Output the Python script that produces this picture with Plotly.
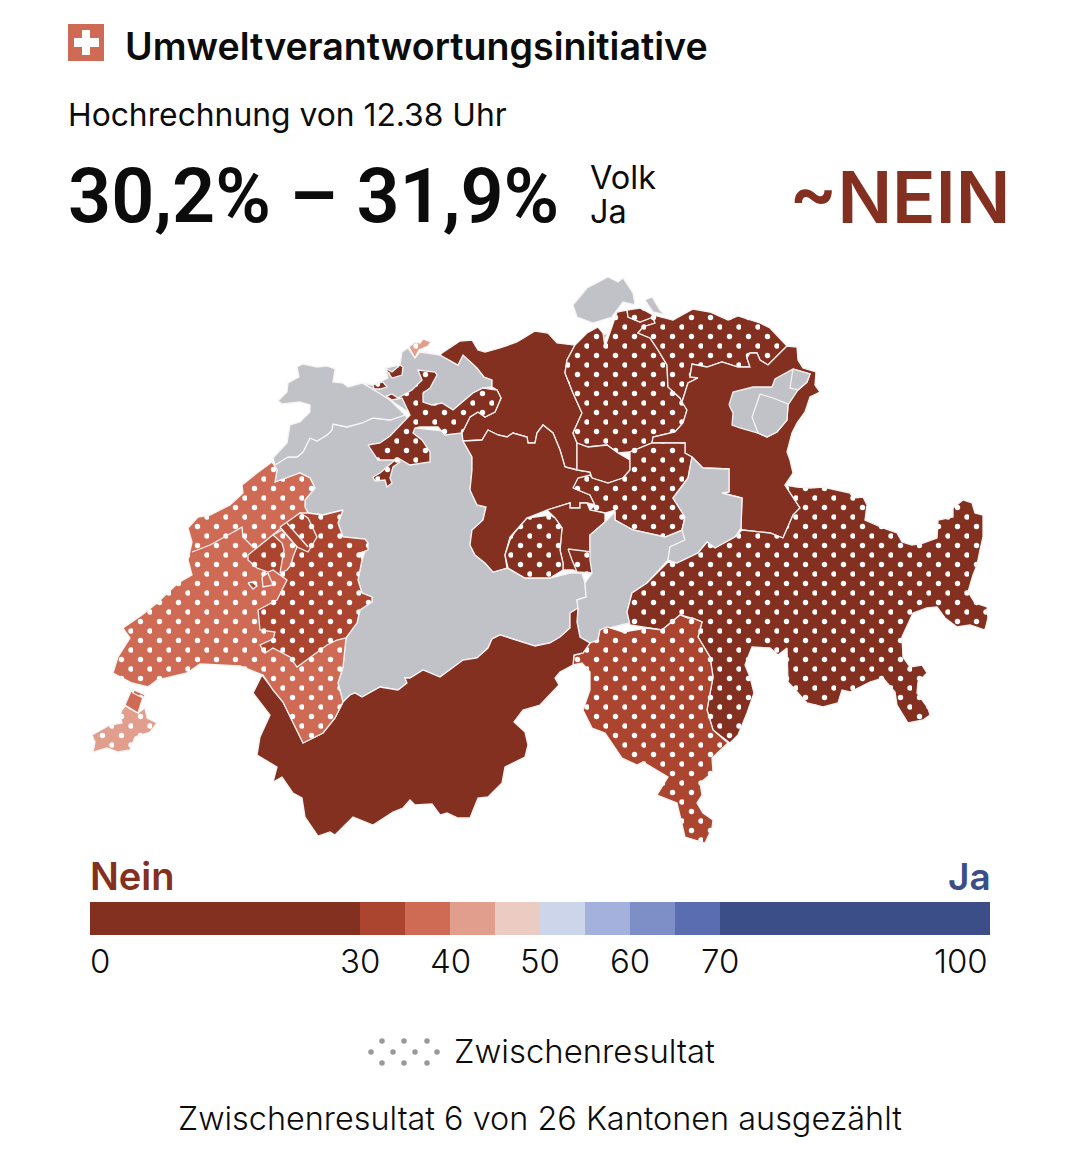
import plotly.graph_objects as go

# colour scale of the legend (Ja share in percent)
scale_edges = [0, 30, 35, 40, 45, 50, 55, 60, 65, 70, 100]
scale_colors = ['#833020', '#ab4530', '#cf6a54', '#e29e8d', '#eccbc2',
                '#ccd5ea', '#a4b1dc', '#7e8fc8', '#5a6db0', '#3c4e88']
tick_values = [0, 30, 40, 50, 60, 70, 100]
grey = '#c1c1c8'

# canton outlines
BE = [(273,463),(288,457),(297,457),(303,452),(310,438),(317,441),(327,435),(332,430),(333,424),(347,427),(362,423),(373,418),(390,420),(405,415),(415,428),(462,433),(463,441),(472,457),(472,470),(470,490),(477,505),(486,507),(483,520),(472,530),(470,545),(475,555),(485,563),(493,572),(507,568),(525,578),(550,578),(570,573),(582,573),(585,583),(586,597),(577,600),(578,608),(570,613),(570,628),(560,637),(550,643),(535,646),(523,642),(500,635),(492,639),(488,648),(477,658),(463,660),(440,677),(423,670),(410,678),(405,678),(407,683),(398,690),(380,687),(362,697),(355,693),(350,695),(343,702),(338,683),(343,667),(346,638),(357,623),(360,610),(372,602),(372,597),(362,593),(358,580),(362,560),(368,543),(365,539),(343,537),(338,523),(343,510),(335,512),(323,515),(308,513),(305,507),(305,500),(315,488),(310,478),(300,473),(290,477),(275,482),(277,470)]
JU = [(297,367),(303,364),(317,367),(327,366),(335,369),(333,382),(343,383),(348,387),(362,383),(373,389),(388,398),(405,415),(390,420),(373,418),(362,423),(347,427),(333,424),(332,430),(327,435),(317,441),(310,438),(303,452),(297,457),(288,457),(275,465),(273,458),(287,443),(290,425),(300,422),(310,412),(310,405),(300,402),(282,404),(278,401),(287,392),(288,383),(299,377)]
BL = [(363,383),(373,385),(388,378),(385,368),(400,365),(402,352),(408,348),(415,358),(420,352),(440,355),(458,365),(463,355),(473,363),(477,368),(484,377),(492,380),(492,387),(483,388),(473,393),(453,410),(410,413),(390,400)]
BS = [(409,347),(415,342),(420,343),(423,339),(431,342),(428,346),(419,350),(415,358)]
SO = [(368,445),(380,443),(390,436),(410,415),(402,398),(392,400),(386,396),(392,394),(398,398),(412,390),(422,380),(418,370),(435,372),(437,375),(430,388),(423,393),(423,402),(432,405),(442,403),(453,410),(473,393),(483,388),(497,390),(501,398),(495,412),(485,417),(478,412),(470,417),(462,433),(445,435),(438,427),(420,427),(415,428),(413,433),(422,440),(430,452),(430,462),(410,465),(398,458),(400,462),(393,467),(390,478),(392,483),(387,487),(385,480),(375,481),(373,477),(380,473),(395,460),(378,460)]
SO_2 = [(373,385),(383,382),(387,387),(380,389),(374,389)]
SO_3 = [(385,368),(392,372),(400,365),(403,367),(402,375),(392,378)]
AG = [(442,353),(457,343),(460,341),(472,340),(478,350),(485,352),(500,348),(517,342),(535,331),(548,333),(557,343),(575,345),(567,360),(565,373),(573,393),(582,413),(573,433),(577,443),(577,470),(565,467),(560,450),(553,433),(543,425),(537,433),(535,443),(528,443),(527,437),(513,433),(507,437),(498,435),(488,430),(482,440),(463,441),(462,433),(470,417),(478,412),(485,417),(495,412),(501,398),(497,390),(492,387),(492,380),(484,377),(477,368),(463,355),(458,365),(440,355)]
LU = [(463,441),(482,440),(488,430),(498,435),(507,437),(513,433),(527,437),(528,443),(535,443),(537,433),(543,425),(553,433),(560,450),(565,467),(577,470),(590,472),(592,478),(573,488),(590,495),(595,505),(587,503),(580,503),(580,508),(570,508),(570,503),(547,510),(527,518),(510,537),(505,555),(507,568),(493,572),(485,563),(475,555),(470,545),(472,530),(483,520),(486,507),(477,505),(470,490),(472,470),(472,457)]
OW = [(550,515),(527,518),(515,532),(510,540),(505,555),(508,568),(525,578),(550,578),(563,570),(563,563),(560,550),(562,528),(555,518)]
NW = [(547,510),(570,503),(570,508),(580,508),(580,503),(587,503),(590,510),(605,513),(605,522),(590,535),(590,560),(592,573),(580,573),(573,570),(563,570),(563,563),(560,550),(562,528),(555,518)]
OW_2 = [(568,549),(593,552),(592,573),(577,572),(572,560)]
UR = [(605,522),(615,512),(615,520),(633,530),(665,537),(683,530),(685,540),(670,547),(668,560),(647,583),(632,593),(627,612),(630,623),(600,630),(598,640),(590,643),(580,637),(577,622),(578,608),(577,600),(586,597),(585,583),(592,573),(590,560),(590,535)]
GL = [(692,457),(703,468),(729,469),(729,492),(722,493),(742,498),(741,528),(735,537),(715,548),(707,542),(698,553),(677,563),(668,560),(670,547),(685,540),(682,530),(685,517),(673,498),(688,478)]
SZ = [(573,488),(578,478),(590,475),(592,478),(608,483),(623,478),(630,470),(630,457),(630,452),(652,443),(685,443),(685,453),(692,457),(688,478),(673,498),(685,517),(682,530),(665,537),(633,530),(615,520),(615,510),(605,513),(590,510),(595,505),(590,495)]
ZG = [(577,443),(588,447),(607,445),(618,453),(630,460),(630,470),(623,478),(608,483),(592,478),(590,472),(577,470)]
ZH = [(575,345),(587,333),(598,327),(603,333),(605,347),(617,312),(627,310),(628,317),(640,322),(653,317),(655,323),(643,327),(638,333),(650,338),(658,350),(667,365),(668,387),(680,398),(687,410),(683,423),(675,432),(653,437),(652,443),(630,452),(618,453),(607,445),(588,447),(577,443),(573,433),(582,413),(573,393),(565,373),(567,360)]
SH = [(573,305),(587,288),(608,277),(618,282),(623,278),(633,293),(635,305),(623,302),(612,317),(593,323),(577,317)]
SH_2 = [(645,300),(652,297),(660,310),(665,315),(653,312)]
SH_3 = [(602,345),(608,333),(603,335)]
TG = [(627,310),(640,308),(653,315),(673,320),(693,309),(710,312),(728,320),(738,316),(760,323),(770,328),(787,346),(768,365),(760,360),(757,353),(750,353),(747,358),(750,367),(738,367),(722,362),(707,367),(692,364),(690,377),(698,378),(688,383),(682,402),(680,398),(668,387),(667,365),(658,350),(650,338),(638,333),(643,327),(655,323),(653,317),(640,322),(628,317)]
SG = [(787,346),(797,347),(798,360),(803,368),(816,372),(815,385),(820,392),(810,397),(805,412),(797,423),(792,433),(787,452),(790,460),(793,473),(785,485),(800,508),(793,515),(783,538),(770,533),(742,530),(741,528),(742,498),(722,493),(729,492),(729,469),(703,468),(692,457),(685,453),(685,443),(652,443),(653,437),(675,432),(683,423),(687,410),(682,402),(688,383),(698,378),(690,377),(692,364),(707,367),(722,362),(738,367),(750,367),(747,358),(750,353),(757,353),(760,360),(768,365)]
AR = [(729,405),(733,392),(753,387),(772,387),(775,379),(793,369),(810,374),(807,382),(798,390),(788,405),(787,420),(777,432),(767,437),(758,433),(740,428),(732,425),(733,413)]
AI = [(760,394),(773,398),(788,404),(787,420),(777,432),(767,437),(758,433),(752,417),(757,403)]
AI_2 = [(793,369),(810,374),(807,382),(798,390),(790,388)]
GR = [(742,530),(770,533),(783,538),(793,515),(800,508),(785,485),(797,487),(810,488),(823,487),(837,490),(850,493),(853,498),(863,497),(867,505),(865,520),(883,528),(897,533),(902,542),(912,545),(923,543),(937,538),(938,520),(953,517),(953,508),(963,500),(972,503),(975,513),(983,515),(983,537),(980,550),(977,565),(973,575),(968,592),(975,603),(987,607),(988,618),(985,630),(970,625),(957,627),(945,618),(937,607),(927,608),(913,613),(902,637),(903,657),(910,667),(922,665),(927,673),(918,682),(917,693),(928,708),(930,715),(923,720),(908,723),(897,705),(895,692),(883,678),(870,682),(850,692),(842,690),(838,703),(823,707),(807,703),(798,693),(788,682),(787,648),(778,655),(770,648),(752,647),(745,665),(750,677),(754,693),(747,713),(738,735),(730,743),(713,730),(707,710),(713,677),(710,657),(698,637),(702,622),(692,618),(680,615),(662,630),(647,628),(630,625),(627,612),(632,593),(647,583),(668,562),(677,563),(698,553),(707,542),(715,548),(735,537)]
TI = [(600,630),(607,627),(623,632),(647,628),(662,630),(680,615),(688,618),(692,618),(702,622),(698,637),(710,657),(713,677),(707,710),(713,730),(728,743),(712,758),(713,772),(700,783),(702,795),(697,803),(703,813),(713,820),(712,828),(705,843),(695,840),(685,837),(677,803),(657,795),(668,777),(643,762),(637,765),(622,758),(605,733),(592,728),(583,710),(590,690),(590,672),(582,663),(573,665),(574,655),(583,653),(590,643),(598,640)]
VS = [(578,608),(577,622),(580,637),(590,643),(583,653),(574,655),(573,665),(560,672),(555,678),(559,685),(540,705),(523,710),(514,722),(525,732),(528,745),(525,757),(505,767),(502,783),(488,797),(478,798),(470,818),(458,818),(447,813),(440,815),(432,804),(415,805),(410,800),(403,808),(393,812),(373,825),(353,817),(335,835),(330,832),(318,836),(305,817),(302,798),(293,793),(282,777),(273,782),(277,767),(257,755),(260,737),(270,715),(253,693),(262,675),(283,702),(303,743),(323,733),(335,718),(343,702),(350,695),(355,693),(362,697),(380,687),(398,690),(407,683),(405,678),(410,678),(423,670),(440,677),(463,660),(477,658),(488,648),(492,639),(500,635),(523,642),(535,646),(550,643),(560,637),(570,628),(570,613)]
VD = [(272,462),(277,470),(275,482),(290,477),(300,473),(310,478),(315,488),(305,500),(305,507),(308,513),(330,540),(340,600),(346,638),(343,667),(338,683),(343,702),(335,718),(323,733),(303,743),(283,702),(273,690),(263,675),(240,666),(200,664),(187,673),(157,680),(148,687),(132,683),(113,673),(118,657),(130,638),(123,628),(142,615),(157,603),(170,590),(178,583),(192,575),(188,560),(192,542),(188,528),(198,517),(210,515),(230,505),(243,493),(242,485),(257,473)]
VD_2 = [(125,705),(131,691),(143,697),(138,713)]
VD_3 = [(134,690),(145,695),(143,698),(133,693)]
VD_4 = [(273,535),(282,530),(297,547),(293,557),(291,565),(287,570),(280,573),(282,560),(284,550),(282,543)]
VD_5 = [(262,577),(268,573),(273,585),(263,587)]
GE = [(122,710),(125,706),(138,713),(145,708),(147,718),(157,723),(150,732),(135,737),(130,750),(118,752),(107,748),(93,752),(95,742),(92,735),(110,725),(122,723),(120,715)]
FR = [(343,510),(338,523),(343,537),(365,539),(368,543),(368,550),(360,553),(362,560),(358,580),(362,593),(372,597),(372,602),(360,610),(357,623),(346,638),(337,640),(327,645),(297,667),(290,657),(273,648),(265,653),(260,645),(273,639),(275,632),(260,630),(258,610),(277,600),(287,580),(273,570),(268,572),(257,568),(248,560),(248,555),(300,513),(308,513),(323,515),(335,512)]
FR_2 = [(280,527),(300,513),(308,518),(317,537),(308,552),(297,547)]
FR_3 = [(248,583),(252,582),(257,586),(253,589)]

# draw order matters, later ones lie on top: (outline, colour bin or None for no result, interim?)
cantons = [
    (BE, None, False), (JU, None, False), (BL, None, False), (BS, 3, True), (SH, None, False),
    (SH_2, None, False), (SH_3, None, False), (AG, 0, False), (LU, 0, False), (ZH, 0, True),
    (TG, 0, True), (SG, 0, False), (AR, None, False), (AI, None, False), (AI_2, None, False),
    (ZG, 0, False), (SZ, 0, True), (NW, 0, False), (OW, 0, True), (OW_2, 0, True),
    (UR, None, False), (GL, None, False), (SO, 0, True), (SO_2, 0, True), (SO_3, 0, True),
    (GR, 0, True), (TI, 1, True), (VS, 0, False), (VD, 2, True), (GE, 3, True),
    (VD_2, 2, False), (VD_3, 2, True), (FR, 1, True), (FR_2, 1, True), (VD_4, 2, True),
    (VD_5, 2, False), (FR_3, 1, False),
]

# lines inside a canton
inner_lines = [
    [(192,552),(210,545),(237,530),(242,527),(243,537),(253,547)],
    [(287,523),(308,547)],
]

# staggered dots, two per tile
dot_r = 2.7
def circle(cx, cy):
    return f'M{cx - dot_r},{cy}a{dot_r},{dot_r} 0 1,0 {2 * dot_r},0a{dot_r},{dot_r} 0 1,0 {-2 * dot_r},0Z'
DOTS = circle(17, 4) + circle(7.5, 13.5)

font = 'Inter'
fig = go.Figure()

for outline, color_bin, interim in cantons:
    color = grey if color_bin is None else scale_colors[color_bin]
    xs = [p[0] for p in outline] + [outline[0][0]]
    ys = [p[1] for p in outline] + [outline[0][1]]
    trace = dict(x=xs, y=ys, mode='lines', fill='toself', fillcolor=color,
                 line=dict(color='#f6f3f3', width=1.3), hoverinfo='skip', showlegend=False)
    if interim:
        trace['fillpattern'] = dict(path=DOTS, size=19, fgcolor='white', bgcolor=color, fgopacity=1)
    fig.add_trace(go.Scatter(**trace))

for line in inner_lines:
    fig.add_trace(go.Scatter(x=[p[0] for p in line], y=[p[1] for p in line], mode='lines',
                             line=dict(color='#f6f3f3', width=1.3), hoverinfo='skip', showlegend=False))

# colour scale
fig.add_trace(go.Bar(
    x=[b - a for a, b in zip(scale_edges, scale_edges[1:])],
    base=scale_edges[:-1],
    y=[0] * len(scale_colors),
    orientation='h',
    width=1,
    marker=dict(color=scale_colors, line=dict(width=0)),
    xaxis='x2', yaxis='y2', hoverinfo='skip', showlegend=False,
))

# legend swatch for the interim result
swatch_x = [382, 404, 427, 371, 393, 415, 437, 382, 404, 427]
swatch_y = [1041, 1041, 1041, 1052, 1052, 1052, 1052, 1063, 1063, 1063]
fig.add_trace(go.Scatter(x=swatch_x, y=swatch_y, mode='markers',
                         marker=dict(color='#999999', size=5.5), hoverinfo='skip', showlegend=False))


def label(text, x, y, size, anchor='left', color='#0c0c0c', weight=400, xref='x', family=font, xshift=0):
    fig.add_annotation(text=text, x=x, y=y, xref=xref, yref='y', xanchor=anchor, yanchor='middle', xshift=xshift,
                       showarrow=False, font=dict(family=family, size=size, color=color, weight=weight))


label('Umweltverantwortungsinitiative', 123, 46, 37.6, weight=600)
label('Hochrechnung von 12.38 Uhr', 66, 114, 31.8)
label('30,2% – 31,9%', 66, 196, 75.5, weight=600, family='Roboto')
label('Volk', 588, 177, 32.5)
label('Ja', 588, 211, 32.5)
label('~NEIN', 1012, 196, 72, anchor='right', color=scale_colors[0], weight=600)
label('Nein', 88, 876, 38, color=scale_colors[0], weight=600)
label('Ja', 993, 876, 37, anchor='right', color=scale_colors[-1], weight=600)
for t in tick_values:
    anchor = 'left' if t == tick_values[0] else 'right' if t == tick_values[-1] else 'center'
    label(str(t), t, 961, 33, anchor=anchor, weight=300, xref='x2', xshift=-2 if t == 0 else 0)
label('Zwischenresultat', 452, 1051, 32.9, weight=300)
label('Zwischenresultat 6 von 26 Kantonen ausgezählt', 540, 1118, 32.4, anchor='center', weight=300)

# Swiss flag
fig.add_shape(type='rect', x0=68, x1=104, y0=24, y1=61, fillcolor=scale_colors[2], line_width=0)
fig.add_shape(type='rect', x0=82, x1=90, y0=30, y1=55, fillcolor='white', line_width=0)
fig.add_shape(type='rect', x0=74, x1=99, y0=38, y1=47, fillcolor='white', line_width=0)

hidden = dict(visible=False, fixedrange=True)
fig.update_layout(
    width=1080, height=1150,
    margin=dict(l=0, r=0, t=0, b=0),
    paper_bgcolor='white', plot_bgcolor='white',
    barmode='overlay',
    xaxis=dict(range=[0, 1080], domain=[0, 1], **hidden),
    yaxis=dict(range=[1150, 0], domain=[0, 1], **hidden),
    xaxis2=dict(range=[0, 100], domain=[90 / 1080, 990 / 1080], anchor='y2', **hidden),
    yaxis2=dict(range=[-0.5, 0.5], domain=[1 - 935 / 1150, 1 - 902 / 1150], anchor='x2', **hidden),
)

fig.write_html("out.html", config=dict(displayModeBar=False), post_script="document.body.style.margin='0';")
